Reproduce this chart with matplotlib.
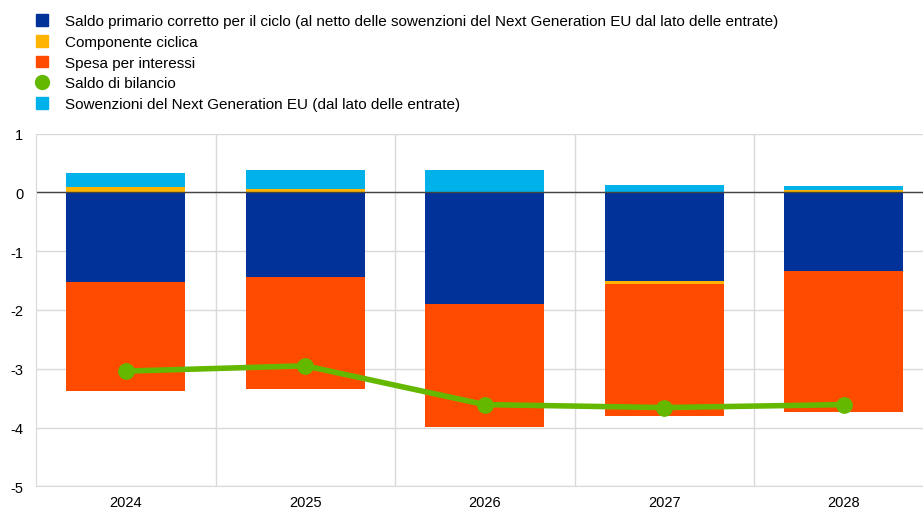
import numpy as np
import matplotlib.pyplot as plt
from matplotlib.lines import Line2D
from matplotlib.patches import Patch

plt.rcParams['font.family'] = ['Liberation Sans', 'DejaVu Sans']

years = ['2024', '2025', '2026', '2027', '2028']
saldo_primario = [-1.525, -1.44, -1.90, -1.50, -1.34]
componente_ciclica = [0.085, 0.06, 0.0, -0.06, 0.045]
spesa_interessi = [-1.86, -1.90, -2.085, -2.24, -2.40]
sovvenzioni_ngeu = [0.25, 0.32, 0.38, 0.125, 0.06]
saldo_bilancio = [-3.04, -2.95, -3.61, -3.66, -3.61]

labels = [
    'Saldo primario corretto per il ciclo (al netto delle sowenzioni del Next Generation EU dal lato delle entrate)',
    'Componente ciclica',
    'Spesa per interessi',
    'Saldo di bilancio',
    'Sowenzioni del Next Generation EU (dal lato delle entrate)',
]
c_blue = '#003299'
c_yellow = '#FFB400'
c_orange = '#FF4B00'
c_green = '#65B800'
c_cyan = '#00B1EA'

fig = plt.figure(figsize=(9.23, 5.10), dpi=100)
ax = fig.add_axes([36 / 923, 22.7 / 510, 897.5 / 923, 352.6 / 510])

x = np.arange(len(years))
w = 0.663

# stacked bars: positive parts above zero, negative parts below
series = [(saldo_primario, c_blue), (componente_ciclica, c_yellow),
          (spesa_interessi, c_orange), (sovvenzioni_ngeu, c_cyan)]
pos = np.zeros(len(years))
neg = np.zeros(len(years))
for vals, col in series:
    v = np.array(vals)
    bottom = np.where(v >= 0, pos, neg)
    ax.bar(x, v, w, bottom=bottom, color=col, zorder=2)
    pos = pos + np.clip(v, 0, None)
    neg = neg + np.clip(v, None, 0)

ax.plot(x, saldo_bilancio, color=c_green, lw=4, marker='o', ms=11, zorder=3)
ax.axhline(0, color='#444444', lw=1, zorder=2.5)

ax.set_xlim(-0.5, 4.5)
ax.set_ylim(-5, 1)
ax.set_yticks(range(-5, 2))
ax.set_yticklabels([str(v) for v in range(-5, 2)])
ax.set_xticks(x)
ax.set_xticklabels(years)
ax.set_xticks(np.arange(0.5, 4.5, 1), minor=True)
ax.grid(False)
ax.yaxis.grid(True, color='#d9d9d9', lw=1, zorder=0)
ax.xaxis.grid(True, which='minor', color='#d9d9d9', lw=1, zorder=0)
ax.tick_params(axis='both', which='both', length=0, labelsize=10.5, colors='#000000')
ax.tick_params(axis='y', pad=9)
ax.tick_params(axis='x', pad=6)
for s in ['top', 'right']:
    ax.spines[s].set_visible(False)
for s in ['left', 'bottom']:
    ax.spines[s].set_color('#d9d9d9')

handles = [
    Patch(color=c_blue),
    Patch(color=c_yellow),
    Patch(color=c_orange),
    Line2D([], [], color=c_green, marker='o', ls='none', ms=10),
    Patch(color=c_cyan),
]
fig.legend(handles, labels, loc='upper left', bbox_to_anchor=(30 / 923, 1 - 9 / 510),
           frameon=False, fontsize=11, handlelength=0.8, handleheight=0.8,
           handletextpad=1.1, labelspacing=0.43, borderaxespad=0)

fig.savefig('out.png', dpi=100)
